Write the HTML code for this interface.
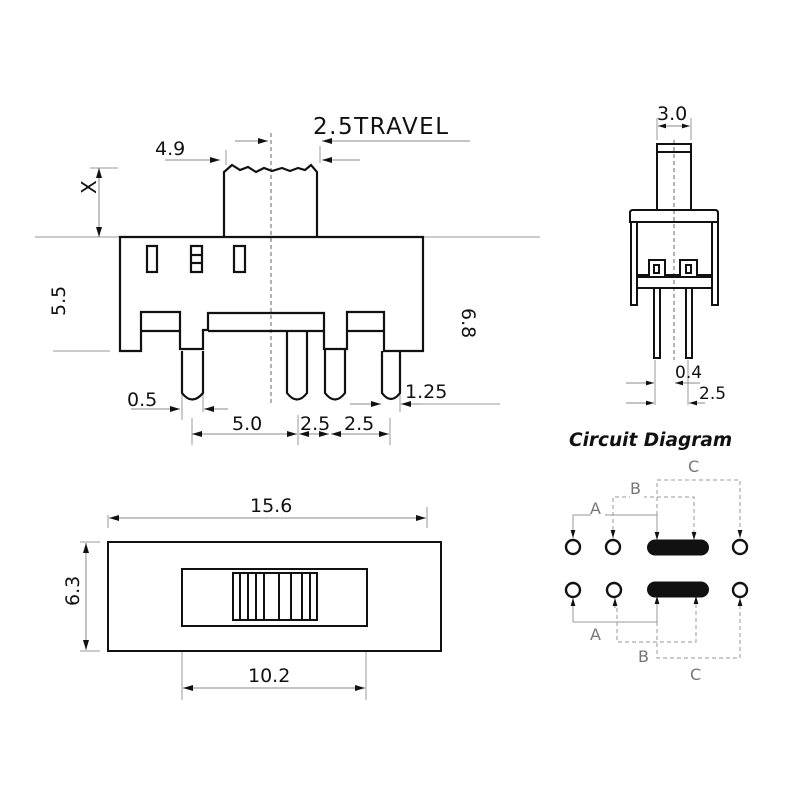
<!DOCTYPE html>
<html><head><style>
html,body{margin:0;padding:0;background:#fff;}
svg{display:block;}
text{font-family:"DejaVu Sans","Liberation Sans",sans-serif;fill:#111;}
</style></head><body>
<svg width="800" height="800" viewBox="0 0 800 800" xmlns="http://www.w3.org/2000/svg">
<defs>
<marker id="a" viewBox="0 0 10 6" refX="10" refY="3" markerWidth="10" markerHeight="6" markerUnits="userSpaceOnUse" orient="auto"><path d="M0,0 L10,3 L0,6 z" fill="#111"/></marker>
<marker id="s" viewBox="0 0 10 6" refX="10" refY="3" markerWidth="8" markerHeight="5" markerUnits="userSpaceOnUse" orient="auto"><path d="M0,0 L10,3 L0,6 z" fill="#111"/></marker>
</defs>
<g stroke="#999" stroke-width="1" fill="none">
<line x1="35" y1="237" x2="540" y2="237"/>
<line x1="53" y1="351" x2="110" y2="351"/>
<line x1="90" y1="168" x2="118" y2="168"/>
<line x1="226" y1="150" x2="226" y2="165"/>
<line x1="320" y1="146" x2="320" y2="163"/>
<line x1="182" y1="383" x2="182" y2="420"/>
<line x1="192" y1="418" x2="192" y2="445"/>
<line x1="203" y1="383" x2="203" y2="412"/>
<line x1="298" y1="415" x2="298" y2="445"/>
<line x1="390" y1="418" x2="390" y2="445"/>
<line x1="400" y1="383" x2="400" y2="412"/>
<line x1="420" y1="404" x2="500" y2="404"/>
<line x1="108" y1="515" x2="108" y2="528"/>
<line x1="427" y1="507" x2="427" y2="528"/>
<line x1="80" y1="542" x2="100" y2="542"/>
<line x1="80" y1="651" x2="100" y2="651"/>
<line x1="182" y1="652" x2="182" y2="700"/>
<line x1="366" y1="652" x2="366" y2="700"/>
<line x1="657" y1="118" x2="657" y2="140"/>
<line x1="691" y1="118" x2="691" y2="140"/>
<line x1="655" y1="360" x2="655" y2="405"/>
<line x1="688" y1="360" x2="688" y2="405"/>
</g>
<g stroke="#666" stroke-width="1" stroke-dasharray="4,3" fill="none">
<line x1="271" y1="133" x2="271" y2="405"/>
<line x1="674" y1="140" x2="674" y2="360"/>
</g>
<g stroke="#888" stroke-width="1" fill="none">
<line x1="165" y1="160" x2="220" y2="160" marker-end="url(#a)"/>
<line x1="235" y1="141" x2="268" y2="141" marker-end="url(#a)"/>
<line x1="470" y1="141" x2="322" y2="141" marker-end="url(#a)"/>
<line x1="360" y1="160" x2="322" y2="160" marker-end="url(#a)"/>
<line x1="99" y1="200" x2="99" y2="168" marker-end="url(#a)"/>
<line x1="99" y1="200" x2="99" y2="237" marker-end="url(#a)"/>
<line x1="131" y1="409" x2="180" y2="409" marker-end="url(#a)"/>
<line x1="228" y1="409" x2="204" y2="409" marker-end="url(#a)"/>
<line x1="350" y1="404" x2="381" y2="404" marker-end="url(#a)"/>
<line x1="420" y1="404" x2="401" y2="404" marker-end="url(#a)"/>
<line x1="240" y1="434" x2="192" y2="434" marker-end="url(#a)"/>
<line x1="240" y1="434" x2="297" y2="434" marker-end="url(#a)"/>
<line x1="312" y1="434" x2="299" y2="434" marker-end="url(#a)"/>
<line x1="312" y1="434" x2="329" y2="434" marker-end="url(#a)"/>
<line x1="360" y1="434" x2="331" y2="434" marker-end="url(#a)"/>
<line x1="360" y1="434" x2="389" y2="434" marker-end="url(#a)"/>
<line x1="268" y1="518" x2="109" y2="518" marker-end="url(#a)"/>
<line x1="268" y1="518" x2="426" y2="518" marker-end="url(#a)"/>
<line x1="86" y1="597" x2="86" y2="543" marker-end="url(#a)"/>
<line x1="86" y1="597" x2="86" y2="650" marker-end="url(#a)"/>
<line x1="274" y1="688" x2="183" y2="688" marker-end="url(#a)"/>
<line x1="274" y1="688" x2="365" y2="688" marker-end="url(#a)"/>
<line x1="674" y1="126" x2="658" y2="126" marker-end="url(#s)"/>
<line x1="674" y1="126" x2="690" y2="126" marker-end="url(#s)"/>
<line x1="626" y1="383" x2="654" y2="383" marker-end="url(#s)"/>
<line x1="700" y1="383" x2="675" y2="383" marker-end="url(#s)"/>
<line x1="626" y1="403" x2="654" y2="403" marker-end="url(#s)"/>
<line x1="705" y1="403" x2="689" y2="403" marker-end="url(#s)"/>
</g>
<g stroke="#111" stroke-width="2.2" fill="none" stroke-linejoin="miter">
<path d="M224,237 L224,172 L232,165 L240,170 L248,167 L256,172 L264,168 L272,171 L282,168 L290,171 L298,168 L305,170 L311,165 L317,172 L317,237"/>
<path d="M120,351 L120,237 L423,237 L423,351 L384,351 L384,312 L347,312 L347,349 L324,349 L324,313 L208,313 L208,330 L203,330 L203,349 L180,349 L180,312 L141,312 L141,351 Z"/>
<line x1="141" y1="331" x2="180" y2="331"/>
<line x1="208" y1="331" x2="324" y2="331"/>
<line x1="347" y1="331" x2="384" y2="331"/>
<rect x="147" y="246" width="10" height="26"/>
<rect x="191" y="246" width="11" height="26"/>
<line x1="191" y1="255" x2="202" y2="255"/><line x1="191" y1="263" x2="202" y2="263"/>
<rect x="234" y="246" width="11" height="26"/>
<path d="M182,351 L182,393 Q192,406 203,393 L203,351"/>
<path d="M287,331 L287,393 Q297,406 307,393 L307,331"/>
<path d="M325,349 L325,393 Q335,406 345,393 L345,349"/>
<path d="M382,351 L382,393 Q391,405 400,393 L400,351"/>
</g>
<g font-size="19">
<text x="155" y="155">4.9</text>
<text x="313" y="134" font-size="23" letter-spacing="1.5">2.5TRAVEL</text>
<text x="127" y="406">0.5</text>
<text x="405" y="398">1.25</text>
<text x="232" y="430">5.0</text>
<text x="300" y="430">2.5</text>
<text x="344" y="430">2.5</text>
<text x="250" y="512">15.6</text>
<text x="248" y="682">10.2</text>
<text x="657" y="120">3.0</text>
<text x="675" y="378" font-size="17">0.4</text>
<text x="699" y="399" font-size="17">2.5</text>
<text transform="translate(65,316) rotate(-90)">5.5</text>
<text transform="translate(462,308) rotate(90)">6.8</text>
<text transform="translate(79,606) rotate(-90)">6.3</text>
<text transform="translate(96,194) rotate(-90)" font-size="20">X</text>
</g>
<g stroke="#111" stroke-width="2" fill="none">
<rect x="108" y="542" width="333" height="109"/>
<rect x="182" y="569" width="185" height="57"/>
<rect x="233" y="573" width="84" height="47"/>
<line x1="240" y1="573" x2="240" y2="620"/><line x1="248" y1="573" x2="248" y2="620"/>
<line x1="256" y1="573" x2="256" y2="620"/><line x1="264" y1="573" x2="264" y2="620"/>
<line x1="279" y1="573" x2="279" y2="620"/><line x1="291" y1="573" x2="291" y2="620"/>
<line x1="302" y1="573" x2="302" y2="620"/><line x1="310" y1="573" x2="310" y2="620"/>
</g>
<g stroke="#111" stroke-width="2" fill="none">
<rect x="657" y="144" width="34" height="66"/>
<line x1="657" y1="152" x2="691" y2="152"/>
<path d="M633,210 L715,210 Q718,210 718,213 L718,222 L630,222 L630,213 Q630,210 633,210 Z"/>
<path d="M631,222 L631,305 L637,305 L637,222"/>
<path d="M718,222 L718,305 L712,305 L712,222"/>
<rect x="637" y="277" width="75" height="11"/>
<path d="M637,275 L649,275 L649,260 L665,260 L665,275 L680,275 L680,260 L697,260 L697,275 L712,275"/>
<rect x="654" y="265" width="5" height="8"/>
<rect x="686" y="265" width="5" height="8"/>
<rect x="654" y="288" width="6" height="70"/>
<rect x="686" y="288" width="6" height="70"/>
</g>
<text x="569" y="446" font-size="18.5" font-weight="bold" font-style="italic" font-family="Liberation Sans,sans-serif">Circuit Diagram</text>
<g stroke="#999" stroke-width="1" fill="none">
<path d="M573,530 L573,515 L657,515 L657,530"/>
<path d="M573,608 L573,622 L657,622 L657,608"/>
</g>
<g stroke="#999" stroke-width="1" fill="none" stroke-dasharray="4,3">
<path d="M613,530 L613,497 L694,497 L694,530"/>
<path d="M657,515 L657,480 L740,480 L740,530"/>
<path d="M617,608 L617,642 L696,642 L696,608"/>
<path d="M657,622 L657,658 L740,658 L740,608"/>
</g>
<g fill="#fff">
<rect x="591" y="496" width="14" height="24"/><rect x="630" y="476" width="14" height="22"/><rect x="688" y="456" width="16" height="20"/>
<rect x="591" y="624" width="14" height="18"/><rect x="638" y="645" width="14" height="20"/><rect x="690" y="662" width="16" height="20"/>
</g>
<g font-size="16">
<text x="590" y="514" style="fill:#777">A</text><text x="630" y="494" style="fill:#777">B</text><text x="688" y="472" style="fill:#777">C</text>
<text x="590" y="640" style="fill:#777">A</text><text x="638" y="662" style="fill:#777">B</text><text x="690" y="680" style="fill:#777">C</text>
</g>
<g stroke="#999" stroke-width="1">
<line x1="573" y1="530" x2="573" y2="538" marker-end="url(#s)"/>
<line x1="613" y1="530" x2="613" y2="538" marker-end="url(#s)"/>
<line x1="657" y1="530" x2="657" y2="540" marker-end="url(#s)"/>
<line x1="694" y1="530" x2="694" y2="540" marker-end="url(#s)"/>
<line x1="740" y1="530" x2="740" y2="538" marker-end="url(#s)"/>
<line x1="573" y1="608" x2="573" y2="598" marker-end="url(#s)"/>
<line x1="615" y1="608" x2="615" y2="598" marker-end="url(#s)"/>
<line x1="657" y1="608" x2="657" y2="596" marker-end="url(#s)"/>
<line x1="696" y1="608" x2="696" y2="596" marker-end="url(#s)"/>
<line x1="740" y1="608" x2="740" y2="598" marker-end="url(#s)"/>
</g>
<g stroke="#111" stroke-width="2.4" fill="#fff">
<circle cx="573" cy="547" r="7"/><circle cx="613" cy="547" r="7"/><circle cx="740" cy="547" r="7"/>
<circle cx="573" cy="590" r="7"/><circle cx="614" cy="590" r="7"/><circle cx="740" cy="590" r="7"/>
</g>
<rect x="647" y="539.5" width="62" height="16" rx="8" fill="#111"/>
<rect x="647" y="581.5" width="62" height="16" rx="8" fill="#111"/>
</svg>
</body></html>
